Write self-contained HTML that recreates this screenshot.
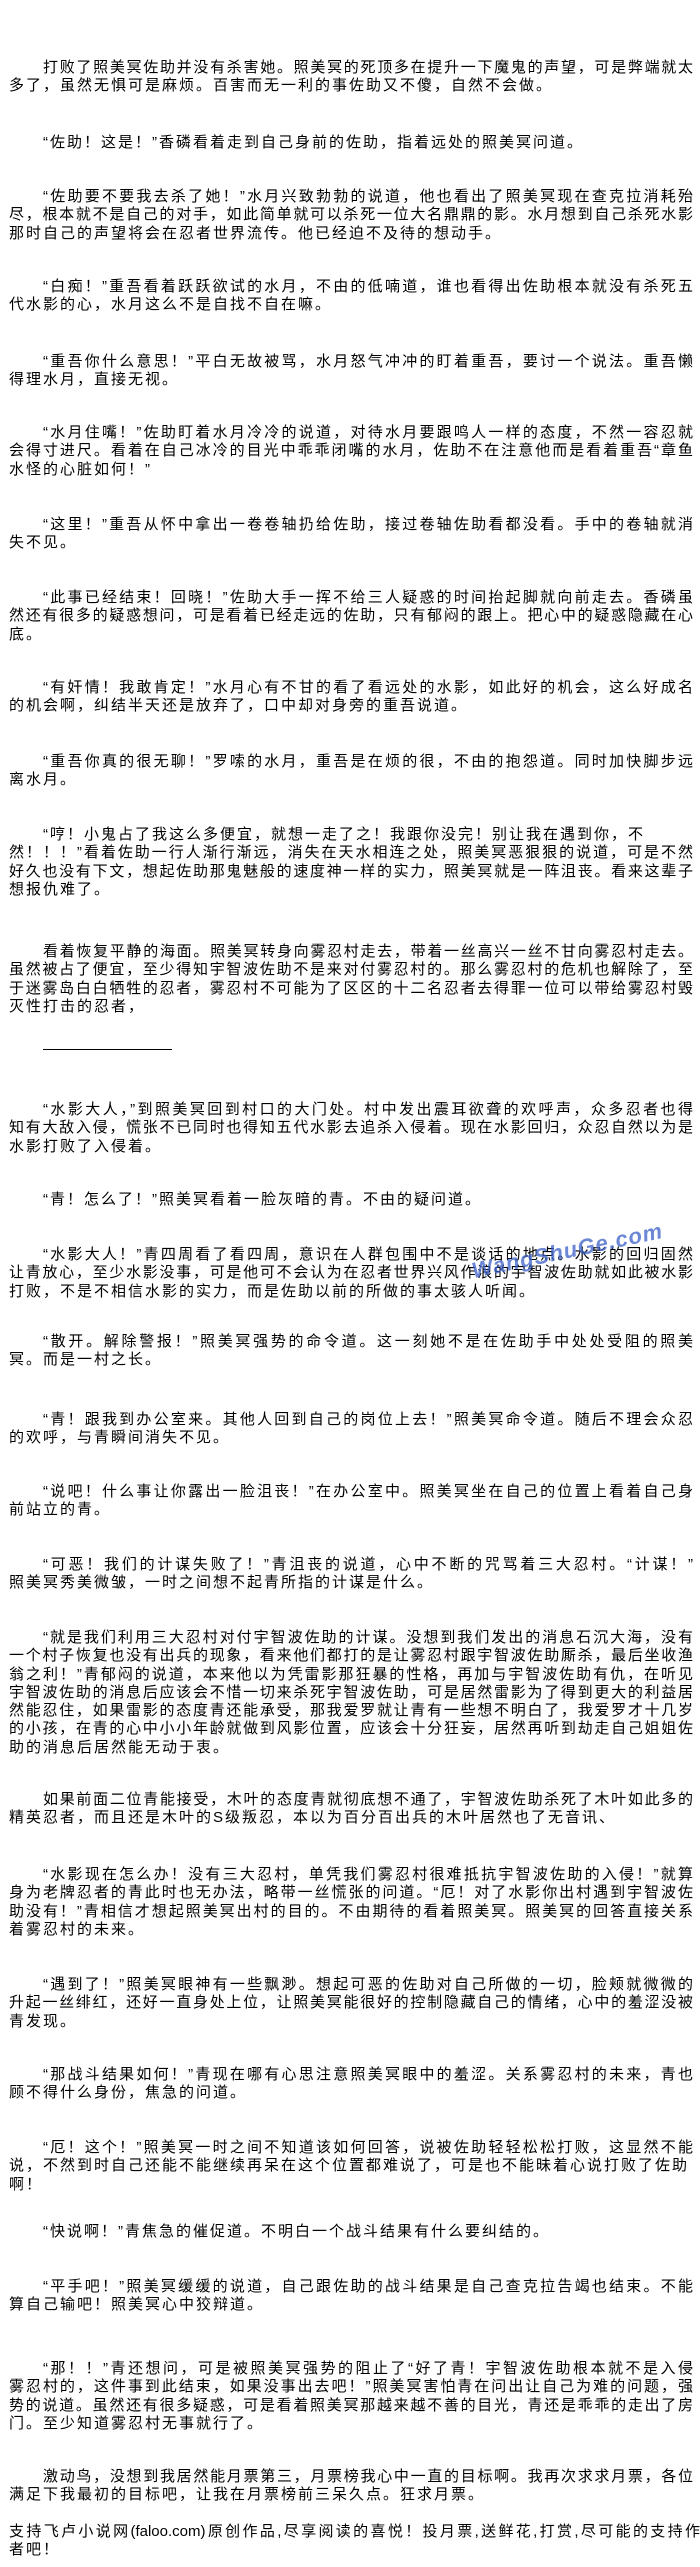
<!DOCTYPE html>
<html><head><meta charset="utf-8">
<style>
html,body{margin:0;padding:0;background:#fff;}
body{width:700px;height:2567px;position:relative;overflow:hidden;
font-family:"Liberation Sans","Noto Sans CJK SC",sans-serif;font-size:15px;color:#000;}
.p{position:absolute;left:9px;width:684px;}
.l{height:18.3px;line-height:18.3px;white-space:nowrap;letter-spacing:2px;}
.j{text-align:justify;text-align-last:justify;letter-spacing:0;}
.i{padding-left:34px;}
.wm{position:absolute;left:470px;top:1238px;color:#3a5fc8;font-size:22px;font-weight:bold;transform:rotate(-12deg);opacity:.75;letter-spacing:1px;font-style:italic;}
</style></head><body>

<div class="p" style="top:59px"><div class="l j i">打败了照美冥佐助并没有杀害她。照美冥的死顶多在提升一下魔鬼的声望，可是弊端就太</div><div class="l">多了，虽然无惧可是麻烦。百害而无一利的事佐助又不傻，自然不会做。</div></div>

<div class="p" style="top:134px"><div class="l i">“佐助！这是！”香磷看着走到自己身前的佐助，指着远处的照美冥问道。</div></div>

<div class="p" style="top:188px"><div class="l j i">“佐助要不要我去杀了她！”水月兴致勃勃的说道，他也看出了照美冥现在查克拉消耗殆</div><div class="l j">尽，根本就不是自己的对手，如此简单就可以杀死一位大名鼎鼎的影。水月想到自己杀死水影</div><div class="l">那时自己的声望将会在忍者世界流传。他已经迫不及待的想动手。</div></div>

<div class="p" style="top:278px"><div class="l j i">“白痴！”重吾看着跃跃欲试的水月，不由的低喃道，谁也看得出佐助根本就没有杀死五</div><div class="l">代水影的心，水月这么不是自找不自在嘛。</div></div>

<div class="p" style="top:353px"><div class="l j i">“重吾你什么意思！”平白无故被骂，水月怒气冲冲的盯着重吾，要讨一个说法。重吾懒</div><div class="l">得理水月，直接无视。</div></div>

<div class="p" style="top:424px"><div class="l j i">“水月住嘴！”佐助盯着水月冷冷的说道，对待水月要跟鸣人一样的态度，不然一容忍就</div><div class="l j">会得寸进尺。看着在自己冰冷的目光中乖乖闭嘴的水月，佐助不在注意他而是看着重吾“章鱼</div><div class="l">水怪的心脏如何！”</div></div>

<div class="p" style="top:516px"><div class="l j i">“这里！”重吾从怀中拿出一卷卷轴扔给佐助，接过卷轴佐助看都没看。手中的卷轴就消</div><div class="l">失不见。</div></div>

<div class="p" style="top:589px"><div class="l j i">“此事已经结束！回晓！”佐助大手一挥不给三人疑惑的时间抬起脚就向前走去。香磷虽</div><div class="l j">然还有很多的疑惑想问，可是看着已经走远的佐助，只有郁闷的跟上。把心中的疑惑隐藏在心</div><div class="l">底。</div></div>

<div class="p" style="top:679px"><div class="l j i">“有奸情！我敢肯定！”水月心有不甘的看了看远处的水影，如此好的机会，这么好成名</div><div class="l">的机会啊，纠结半天还是放弃了，口中却对身旁的重吾说道。</div></div>

<div class="p" style="top:753px"><div class="l j i">“重吾你真的很无聊！”罗嗦的水月，重吾是在烦的很，不由的抱怨道。同时加快脚步远</div><div class="l">离水月。</div></div>

<div class="p" style="top:826px"><div class="l i">“哼！小鬼占了我这么多便宜，就想一走了之！我跟你没完！别让我在遇到你，不</div><div class="l j">然！！！”看着佐助一行人渐行渐远，消失在天水相连之处，照美冥恶狠狠的说道，可是不然</div><div class="l j">好久也没有下文，想起佐助那鬼魅般的速度神一样的实力，照美冥就是一阵沮丧。看来这辈子</div><div class="l">想报仇难了。</div></div>

<div class="p" style="top:943px"><div class="l j i">看着恢复平静的海面。照美冥转身向雾忍村走去，带着一丝高兴一丝不甘向雾忍村走去。</div><div class="l j">虽然被占了便宜，至少得知宇智波佐助不是来对付雾忍村的。那么雾忍村的危机也解除了，至</div><div class="l j">于迷雾岛白白牺牲的忍者，雾忍村不可能为了区区的十二名忍者去得罪一位可以带给雾忍村毁</div><div class="l">灭性打击的忍者，</div></div>

<div style="position:absolute;left:43px;top:1049px;width:129px;height:1px;background:#000"></div>

<div class="p" style="top:1101px"><div class="l j i">“水影大人，”到照美冥回到村口的大门处。村中发出震耳欲聋的欢呼声，众多忍者也得</div><div class="l j">知有大敌入侵，慌张不已同时也得知五代水影去追杀入侵着。现在水影回归，众忍自然以为是</div><div class="l">水影打败了入侵着。</div></div>

<div class="p" style="top:1191px"><div class="l i">“青！怎么了！”照美冥看着一脸灰暗的青。不由的疑问道。</div></div>

<div class="p" style="top:1246px"><div class="l j i">“水影大人！”青四周看了看四周，意识在人群包围中不是谈话的地点。水影的回归固然</div><div class="l j">让青放心，至少水影没事，可是他可不会认为在忍者世界兴风作浪的宇智波佐助就如此被水影</div><div class="l">打败，不是不相信水影的实力，而是佐助以前的所做的事太骇人听闻。</div></div>
<div class="wm">WangShuGe.com</div>

<div class="p" style="top:1333px"><div class="l j i">“散开。解除警报！”照美冥强势的命令道。这一刻她不是在佐助手中处处受阻的照美</div><div class="l">冥。而是一村之长。</div></div>

<div class="p" style="top:1411px"><div class="l j i">“青！跟我到办公室来。其他人回到自己的岗位上去！”照美冥命令道。随后不理会众忍</div><div class="l">的欢呼，与青瞬间消失不见。</div></div>

<div class="p" style="top:1483px"><div class="l j i">“说吧！什么事让你露出一脸沮丧！”在办公室中。照美冥坐在自己的位置上看着自己身</div><div class="l">前站立的青。</div></div>

<div class="p" style="top:1556px"><div class="l j i">“可恶！我们的计谋失败了！”青沮丧的说道，心中不断的咒骂着三大忍村。“计谋！”</div><div class="l">照美冥秀美微皱，一时之间想不起青所指的计谋是什么。</div></div>

<div class="p" style="top:1629px"><div class="l j i">“就是我们利用三大忍村对付宇智波佐助的计谋。没想到我们发出的消息石沉大海，没有</div><div class="l j">一个村子恢复也没有出兵的现象，看来他们都打的是让雾忍村跟宇智波佐助厮杀，最后坐收渔</div><div class="l j">翁之利！”青郁闷的说道，本来他以为凭雷影那狂暴的性格，再加与宇智波佐助有仇，在听见</div><div class="l j">宇智波佐助的消息后应该会不惜一切来杀死宇智波佐助，可是居然雷影为了得到更大的利益居</div><div class="l j">然能忍住，如果雷影的态度青还能承受，那我爱罗就让青有一些想不明白了，我爱罗才十几岁</div><div class="l j">的小孩，在青的心中小小年龄就做到风影位置，应该会十分狂妄，居然再听到劫走自己姐姐佐</div><div class="l">助的消息后居然能无动于衷。</div></div>

<div class="p" style="top:1791px"><div class="l j i">如果前面二位青能接受，木叶的态度青就彻底想不通了，宇智波佐助杀死了木叶如此多的</div><div class="l">精英忍者，而且还是木叶的S级叛忍，本以为百分百出兵的木叶居然也了无音讯、</div></div>

<div class="p" style="top:1866px"><div class="l j i">“水影现在怎么办！没有三大忍村，单凭我们雾忍村很难抵抗宇智波佐助的入侵！”就算</div><div class="l j">身为老牌忍者的青此时也无办法，略带一丝慌张的问道。“厄！对了水影你出村遇到宇智波佐</div><div class="l j">助没有！”青相信才想起照美冥出村的目的。不由期待的看着照美冥。照美冥的回答直接关系</div><div class="l">着雾忍村的未来。</div></div>

<div class="p" style="top:1976px"><div class="l j i">“遇到了！”照美冥眼神有一些飘渺。想起可恶的佐助对自己所做的一切，脸颊就微微的</div><div class="l j">升起一丝绯红，还好一直身处上位，让照美冥能很好的控制隐藏自己的情绪，心中的羞涩没被</div><div class="l">青发现。</div></div>

<div class="p" style="top:2066px"><div class="l j i">“那战斗结果如何！”青现在哪有心思注意照美冥眼中的羞涩。关系雾忍村的未来，青也</div><div class="l">顾不得什么身份，焦急的问道。</div></div>

<div class="p" style="top:2139px"><div class="l j i">“厄！这个！”照美冥一时之间不知道该如何回答，说被佐助轻轻松松打败，这显然不能</div><div class="l">说，不然到时自己还能不能继续再呆在这个位置都难说了，可是也不能昧着心说打败了佐助</div><div class="l">啊！</div></div>

<div class="p" style="top:2223px"><div class="l i">“快说啊！”青焦急的催促道。不明白一个战斗结果有什么要纠结的。</div></div>

<div class="p" style="top:2278px"><div class="l j i">“平手吧！”照美冥缓缓的说道，自己跟佐助的战斗结果是自己查克拉告竭也结束。不能</div><div class="l">算自己输吧！照美冥心中狡辩道。</div></div>

<div class="p" style="top:2360px"><div class="l j i">“那！！”青还想问，可是被照美冥强势的阻止了“好了青！宇智波佐助根本就不是入侵</div><div class="l j">雾忍村的，这件事到此结束，如果没事出去吧！”照美冥害怕青在问出让自己为难的问题，强</div><div class="l j">势的说道。虽然还有很多疑惑，可是看着照美冥那越来越不善的目光，青还是乖乖的走出了房</div><div class="l">门。至少知道雾忍村无事就行了。</div></div>

<div class="p" style="top:2468px"><div class="l j i">激动鸟，没想到我居然能月票第三，月票榜我心中一直的目标啊。我再次求求月票，各位</div><div class="l">满足下我最初的目标吧，让我在月票榜前三呆久点。狂求月票。</div></div>

<div class="p" style="top:2523px;width:691px"><div class="l j">支持飞卢小说网(faloo.com)原创作品,尽享阅读的喜悦！投月票,送鲜花,打赏,尽可能的支持作</div><div class="l">者吧！</div></div>

</body></html>
